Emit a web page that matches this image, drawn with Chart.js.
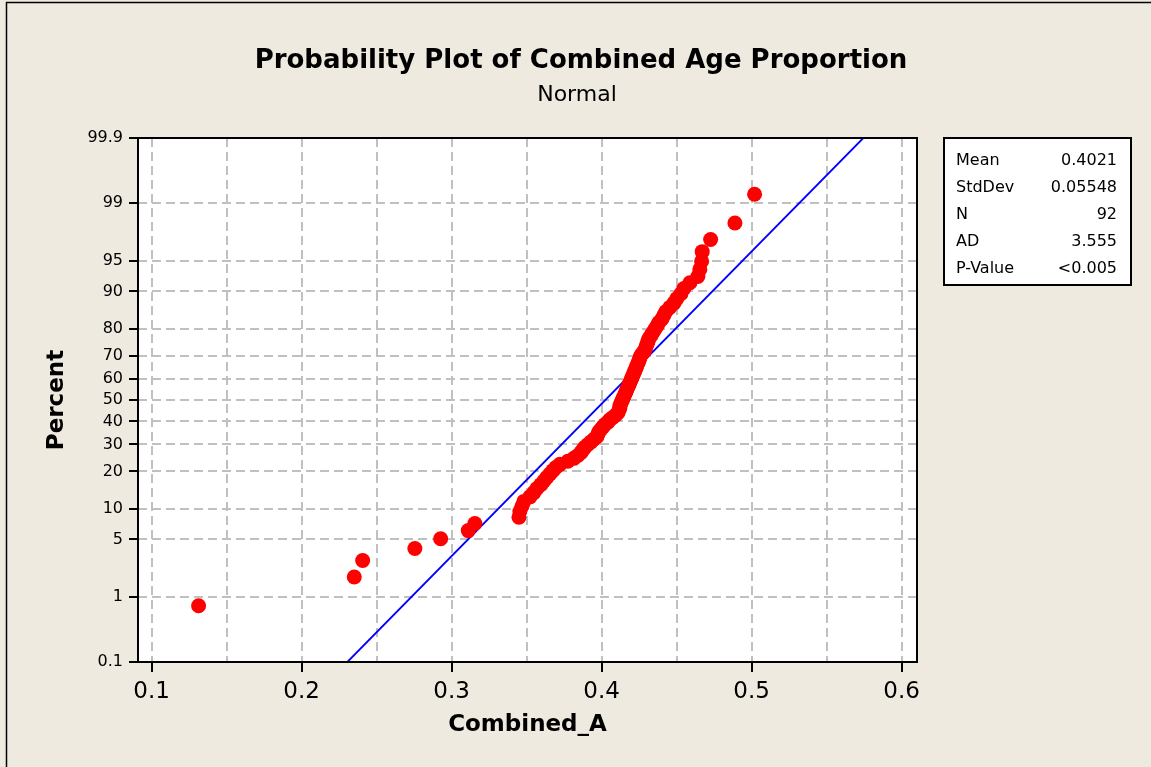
<!DOCTYPE html>
<html lang="en">

<head>
    <meta charset="UTF-8">
    <title>Probability Plot of Combined Age Proportion</title>
    <script src="https://cdn.jsdelivr.net/npm/chart.js"></script>
    <style>
        body { margin: 0; background: #EEEAE0; }
        #box { width: 1151px; height: 767px; }
    </style>
</head>

<body>
    <div id="box">
        <canvas id="probPlot" width="1151" height="767"></canvas>
    </div>

    <script>
        // sorted Combined_A values
        const ageValues = [
            0.1313, 0.2351, 0.2407, 0.2755, 0.2927, 0.3111, 0.3155, 0.3449, 0.3455, 0.3469,
            0.3482, 0.3522, 0.3549, 0.3569, 0.3595, 0.3615, 0.3635, 0.3655, 0.3675, 0.3695,
            0.3722, 0.3775, 0.3815, 0.3842, 0.3862, 0.3875, 0.3889, 0.3909, 0.3929, 0.3949,
            0.3969, 0.3975, 0.3982, 0.3995, 0.4009, 0.4022, 0.4042, 0.4055, 0.4075, 0.4095,
            0.4109, 0.4115, 0.4122, 0.4122, 0.4129, 0.4135, 0.4142, 0.4149, 0.4155, 0.4162,
            0.4169, 0.4175, 0.4182, 0.4189, 0.4195, 0.4202, 0.4209, 0.4215, 0.4222, 0.4229,
            0.4235, 0.4242, 0.4249, 0.4255, 0.4262, 0.4275, 0.4289, 0.4295, 0.4302, 0.4309,
            0.4315, 0.4329, 0.4342, 0.4355, 0.4369, 0.4382, 0.4402, 0.4415, 0.4429, 0.4455,
            0.4482, 0.4502, 0.4529, 0.4549, 0.4589, 0.4642, 0.4655, 0.4667, 0.4671, 0.4727,
            0.4889, 0.5020
        ];
        // plotted percent of each point
        const percentValues = [
            0.76, 1.84, 2.92, 4.00, 5.09, 6.17, 7.25, 8.33, 9.42, 10.50,
            11.58, 12.66, 13.74, 14.83, 15.91, 16.99, 18.07, 19.16, 20.24, 21.32,
            22.40, 23.48, 24.57, 25.65, 26.73, 27.81, 28.90, 29.98, 31.06, 32.14,
            33.23, 34.31, 35.39, 36.47, 37.55, 38.64, 39.72, 40.80, 41.88, 42.97,
            44.05, 45.13, 46.21, 47.29, 48.38, 49.46, 50.54, 51.62, 52.71, 53.79,
            54.87, 55.95, 57.03, 58.12, 59.20, 60.28, 61.36, 62.45, 63.53, 64.61,
            65.69, 66.77, 67.86, 68.94, 70.02, 71.10, 72.19, 73.27, 74.35, 75.43,
            76.52, 77.60, 78.68, 79.76, 80.84, 81.93, 83.01, 84.09, 85.17, 86.26,
            87.34, 88.42, 89.50, 90.58, 91.67, 92.75, 93.83, 94.91, 95.99, 97.08,
            98.16, 99.24
        ];
        // fitted normal line (end points)
        const fitLineX = [0.2305, 0.5745];
        const fitLinePct = [0.1, 99.9];

        const yTickPct = [0.1, 1, 5, 10, 20, 30, 40, 50, 60, 70, 80, 90, 95, 99, 99.9];
        const yTickLabels = ['0.1', '1', '5', '10', '20', '30', '40', '50', '60', '70', '80', '90', '95', '99', '99.9'];
        const xTicks = [0.1, 0.15, 0.2, 0.25, 0.3, 0.35, 0.4, 0.45, 0.5, 0.55, 0.6];

        const statLabels = ['Mean', 'StdDev', 'N', 'AD', 'P-Value'];
        const statValues = ['0.4021', '0.05548', '92', '3.555', '<0.005'];

        const fonte = '"DejaVu Sans", sans-serif';

        // inverse normal cdf (Acklam) -> probability axis
        function probit(p) {
            const a = [-3.969683028665376e+01, 2.209460984245205e+02, -2.759285104469687e+02, 1.383577518672690e+02, -3.066479806614716e+01, 2.506628277459239e+00];
            const b = [-5.447609879822406e+01, 1.615858368580409e+02, -1.556989798598866e+02, 6.680131188771972e+01, -1.328068155288572e+01];
            const c = [-7.784894002430293e-03, -3.223964580411365e-01, -2.400758277161838e+00, -2.549732539343734e+00, 4.374664141464968e+00, 2.938163982698783e+00];
            const d = [7.784695709041462e-03, 3.224671290700398e-01, 2.445134137142996e+00, 3.754408661907416e+00];
            const pl = 0.02425;
            let q, r;
            if (p < pl) {
                q = Math.sqrt(-2 * Math.log(p));
                return (((((c[0] * q + c[1]) * q + c[2]) * q + c[3]) * q + c[4]) * q + c[5]) / ((((d[0] * q + d[1]) * q + d[2]) * q + d[3]) * q + 1);
            }
            if (p > 1 - pl) {
                q = Math.sqrt(-2 * Math.log(1 - p));
                return -(((((c[0] * q + c[1]) * q + c[2]) * q + c[3]) * q + c[4]) * q + c[5]) / ((((d[0] * q + d[1]) * q + d[2]) * q + d[3]) * q + 1);
            }
            q = p - 0.5;
            r = q * q;
            return (((((a[0] * r + a[1]) * r + a[2]) * r + a[3]) * r + a[4]) * r + a[5]) * q / (((((b[0] * r + b[1]) * r + b[2]) * r + b[3]) * r + b[4]) * r + 1);
        }

        const pontos = ageValues.map((v, i) => ({ x: v, y: probit(percentValues[i] / 100) }));
        const linha = fitLineX.map((v, i) => ({ x: v, y: probit(fitLinePct[i] / 100) }));

        const fundoPlugin = {
            id: 'fundo',
            beforeDraw(chart) {
                const ctx = chart.ctx;
                const a = chart.chartArea;
                ctx.save();
                ctx.fillStyle = '#EEEAE0';
                ctx.fillRect(0, 0, chart.width, chart.height);
                ctx.fillStyle = '#FFFFFF';
                ctx.fillRect(a.left, a.top, a.right - a.left, a.bottom - a.top);
                // outer window border (left and top)
                ctx.strokeStyle = '#000';
                ctx.lineWidth = 1.5;
                ctx.beginPath();
                ctx.moveTo(6.5, chart.height);
                ctx.lineTo(6.5, 2.5);
                ctx.lineTo(chart.width, 2.5);
                ctx.stroke();
                ctx.restore();
            },
            afterDraw(chart) {
                const ctx = chart.ctx;
                const a = chart.chartArea;
                ctx.save();
                ctx.strokeStyle = '#000';
                ctx.lineWidth = 2;
                ctx.strokeRect(a.left, a.top, a.right - a.left, a.bottom - a.top);

                // titles
                ctx.fillStyle = '#000';
                ctx.textAlign = 'center';
                ctx.textBaseline = 'alphabetic';
                ctx.font = 'bold 26px ' + fonte;
                ctx.fillText('Probability Plot of Combined Age Proportion', 581, 68);
                ctx.font = '22px ' + fonte;
                ctx.fillText('Normal', 577, 101);

                // stats box
                ctx.fillStyle = '#FFFFFF';
                ctx.fillRect(944, 138, 187, 147);
                ctx.lineWidth = 2;
                ctx.strokeRect(944, 138, 187, 147);
                ctx.fillStyle = '#000';
                ctx.font = '16px ' + fonte;
                for (let i = 0; i < statLabels.length; i++) {
                    const yy = 165 + i * 27;
                    ctx.textAlign = 'left';
                    ctx.fillText(statLabels[i], 956, yy);
                    ctx.textAlign = 'right';
                    ctx.fillText(statValues[i], 1117, yy);
                }
                ctx.restore();
            }
        };

        const ctx = document.getElementById('probPlot').getContext('2d');
        new Chart(ctx, {
            type: 'scatter',
            data: {
                datasets: [{
                    label: 'Combined_A',
                    data: pontos,
                    backgroundColor: '#FF0000',
                    borderWidth: 0,
                    pointRadius: 7.5,
                    order: 1
                }, {
                    label: 'Fit',
                    data: linha,
                    showLine: true,
                    borderColor: '#0000FF',
                    borderWidth: 1.8,
                    pointRadius: 0,
                    order: 2
                }]
            },
            options: {
                responsive: false,
                animation: false,
                devicePixelRatio: 1,
                layout: { padding: { left: 0, top: 138, right: 234, bottom: 0 } },
                plugins: {
                    legend: { display: false },
                    tooltip: { enabled: false }
                },
                scales: {
                    x: {
                        type: 'linear',
                        min: 0.0909,
                        max: 0.6103,
                        afterBuildTicks: (scale) => { scale.ticks = xTicks.map(v => ({ value: v })); },
                        afterFit: (scale) => { scale.height = 105; },
                        border: { display: false, dash: [9, 5] },
                        grid: {
                            color: '#C0C0C0',
                            lineWidth: 2,
                            tickLength: 10,
                            tickWidth: 2,
                            tickBorderDash: [],
                            tickColor: (c) => (c.index % 2 === 0 ? '#000' : 'rgba(0,0,0,0)')
                        },
                        ticks: {
                            autoSkip: false,
                            maxRotation: 0,
                            padding: 6,
                            color: '#000',
                            font: { family: fonte, size: 23 },
                            callback: (v, i) => (i % 2 === 0 ? xTicks[i].toFixed(1) : '')
                        },
                        title: {
                            display: true,
                            text: 'Combined_A',
                            color: '#000',
                            font: { family: fonte, size: 23, weight: 'bold' },
                            padding: { top: 0, bottom: 28 }
                        }
                    },
                    y: {
                        type: 'linear',
                        min: probit(0.001),
                        max: probit(0.999),
                        afterBuildTicks: (scale) => { scale.ticks = yTickPct.map(p => ({ value: probit(p / 100) })); },
                        afterFit: (scale) => { scale.width = 138; },
                        border: { display: false, dash: [9, 5] },
                        grid: {
                            color: '#C0C0C0',
                            lineWidth: 2,
                            tickLength: 9,
                            tickWidth: 2,
                            tickBorderDash: [],
                            tickColor: '#000'
                        },
                        ticks: {
                            autoSkip: false,
                            padding: 6,
                            color: '#000',
                            font: { family: fonte, size: 16 },
                            callback: (v, i) => yTickLabels[i]
                        },
                        title: {
                            display: true,
                            text: 'Percent',
                            color: '#000',
                            font: { family: fonte, size: 23, weight: 'bold' },
                            padding: { top: 43, bottom: 0 }
                        }
                    }
                }
            },
            plugins: [fundoPlugin]
        });
    </script>
</body>

</html>
